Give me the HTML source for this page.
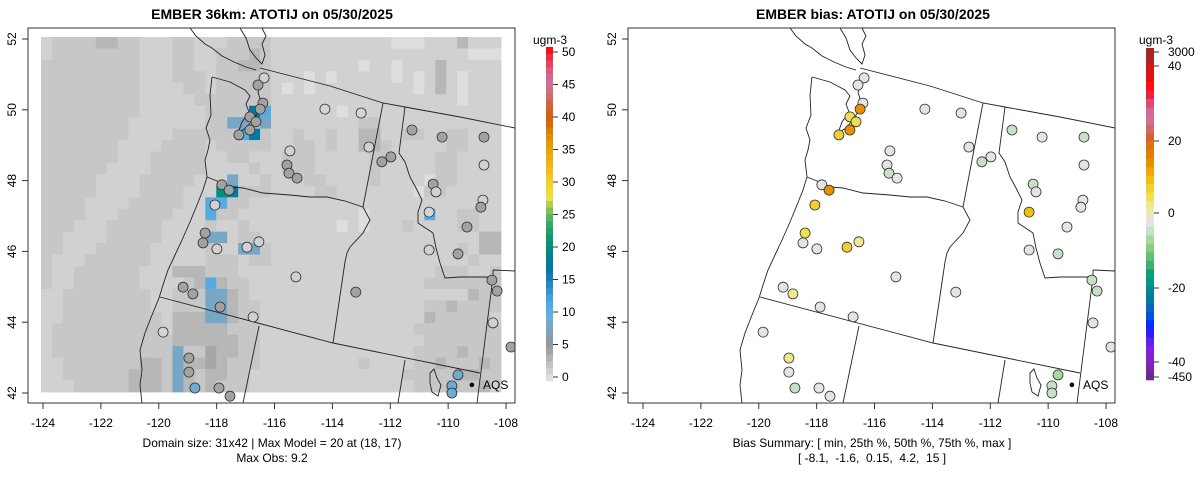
<!DOCTYPE html>
<html><head><meta charset="utf-8">
<style>
html,body{margin:0;padding:0;background:#fff;}
svg{display:block;font-family:"Liberation Sans",Arial,sans-serif;}
</style></head>
<body>
<svg id="chart" width="1200" height="479" viewBox="0 0 1200 479" xmlns="http://www.w3.org/2000/svg">
<rect x="0" y="0" width="1200" height="479" fill="#fff"/>
<text x="272" y="19" text-anchor="middle" font-size="14" font-weight="bold">EMBER 36km: ATOTIJ on 05/30/2025</text>
<text x="873" y="19" text-anchor="middle" font-size="14" font-weight="bold">EMBER bias: ATOTIJ on 05/30/2025</text>
<g id="left"></g>
<g id="right" transform="translate(600,0)"></g>
<text x="272" y="447" text-anchor="middle" font-size="12">Domain size: 31x42 | Max Model = 20 at (18, 17)</text>
<text x="272" y="462" text-anchor="middle" font-size="12">Max Obs: 9.2</text>
<text x="872" y="447" text-anchor="middle" font-size="12">Bias Summary: [ min, 25th %, 50th %, 75th %, max ]</text>
<text x="872" y="462" text-anchor="middle" font-size="12" xml:space="preserve">[ -8.1,  -1.6,  0.15,  4.2,  15 ]</text>
<g id="cbl"></g>
<g id="cbr"></g>
</svg>
<script>
// ---- data ----
const xTicks = [-124,-122,-120,-118,-116,-114,-112,-110,-108];
const yTicks = [42,44,46,48,50,52];
const gridRows = [
"122223322111221"+"112222111111111110001113111",
"122222222111221"+"122232111111111111111111000",
"222222222111221"+"122332111111110110111311111",
"222222222111222"+"122222111010111110101310111",
"222222222111122"+"122222101011111111101310111",
"222222222111112"+"222222111111111111111110111",
"222222222111111"+"2222db111111011111111111111",
"222222221111111"+"22cc2c111111112211111111111",
"222222221111222"+"222bd2112112113311221122111",
"222222211112222"+"122222112212113321111122111",
"222222211122222"+"112211122211111221111221111",
"222222111122222"+"111121122211111211111221111",
"222221111222221"+"11c112111221111211110221111",
"222221111222211"+"1gd222111122111111102211111",
"222211112222211"+"bb2211111111111111111111111",
"222211122222111"+"b2211111111111011111b112211",
"222111222221111"+"211211111111010111211112211",
"221111222221111"+"cc1221111111111111111111133",
"221112222211111"+"211cc2111111111111111112133",
"211122222211111"+"222122111111111111111111211",
"211222222111333"+"222111111111111111111222112",
"211222222111123"+"b32211111111111111112222222",
"112222222211222"+"cc3211111111111111111111322",
"112222222211222"+"cc3221111111111111112232222",
"112222222221333"+"cc3221111111111111113222221",
"122222222221333"+"332221111111111111122222222",
"122222222222333"+"333221111111111111112222222",
"122222222222c22"+"433221111111111111122223222",
"112222222332c33"+"432221111111112111122322232",
"112222223332c32"+"332211111111111111222223322",
"111222223332c32"+"322211111111111111122232231"
];
const levelValue = {"0":0.6,"1":1.5,"2":2.2,"3":3.2,"4":4.2,"c":8,"b":11,"d":17,"g":20};
const siteLon = [-116.36,-116.57,-116.40,-116.50,-116.85,-116.64,-116.85,-117.23,-114.26,-113.01,-111.25,-110.21,-108.76,-115.47,-112.74,-112.29,-111.98,-115.57,-115.50,-115.22,-108.76,-117.82,-117.57,-110.52,-110.42,-108.80,-108.87,-118.06,-110.66,-118.40,-118.47,-117.99,-116.95,-116.54,-109.35,-110.66,-109.66,-115.26,-108.49,-108.31,-119.16,-118.82,-113.19,-117.88,-116.74,-119.85,-108.45,-107.83,-118.96,-118.96,-118.75,-117.92,-117.54,-109.66,-109.87,-109.87];
const siteLat = [50.90,50.70,50.19,50.02,49.80,49.66,49.43,49.29,50.02,49.91,49.43,49.23,49.23,48.84,48.95,48.53,48.67,48.44,48.21,48.07,48.44,47.88,47.73,47.90,47.68,47.45,47.25,47.31,47.11,46.52,46.24,46.07,46.12,46.27,46.69,46.04,45.93,45.28,45.19,44.88,44.99,44.80,44.85,44.43,44.15,43.72,43.98,43.30,42.99,42.59,42.14,42.14,41.91,42.51,42.20,42.00];
const siteObs = [1.5,4.5,4.5,4.5,4.5,4.5,4.5,4.5,1.2,1.2,4.5,4.5,4.5,1.5,1.5,4.5,4.5,4.5,4.5,4.5,1.5,4.5,4.5,4.5,1.5,1.5,4.5,1.5,1.2,4.5,4.5,1.5,1.5,1.5,4.5,1.5,4.5,1.5,4.5,4.5,4.5,4.5,4.5,4.5,1.5,1.2,1.5,4.5,4.5,4.5,9.2,4.5,4.5,9,9,9];
const siteBias = [0,0,0,15,6,5,15,8,0,0,-3,0,-2,0,0,-3,0,0,-2,0,0,0,15,-2,0,0,0,9,10,5,0,0,7,4,0,0,-3,0,-2,-2,0,3,0,0,0,0,0,0,3,0,-4,0,0,-6,-4,-3];
const leftCbTicks = [0,5,10,15,20,25,30,35,40,45,50];
const biasCbLabels = ["3000","40","20","0","-20","-40","-450"];
const biasCbLabelY = [52,66,141,213,288,362,377];
const biasColors = ["#a02828","#b52020","#d01818","#e81010","#ff1010","#f02040","#e04870","#d06890","#d07090","#d06868","#d86030","#e07010","#e08000","#e89000","#f0a800","#f0c010","#f0d030","#f0e050","#f0e890","#e8e8c0","#e4e4e4","#c8e0c8","#a8d8a0","#88cc80","#60c078","#40b070","#10a070","#00988a","#008890","#0078a8","#0068c0","#0050e0","#0030ff","#3020f0","#6020e8","#8020e0","#8820c8","#7828a8","#6a2890"];

// ---- scales ----
const X = lon => 43 + (lon + 124) * 28.94;
const Y = lat => 39 + (52 - lat) * 35.4;
const NS = "http://www.w3.org/2000/svg";
function mk(tag, attrs, parent){const e=document.createElementNS(NS,tag);for(const k in attrs)e.setAttribute(k,attrs[k]);parent.appendChild(e);return e;}
const stops=[[0,"#e6e6e6"],[1,"#d8d8d8"],[2,"#cacaca"],[3,"#bababa"],[4,"#aaaaaa"],[5,"#9a9a9a"],[6,"#8c9aa4"],[8,"#78a6c6"],[10,"#62b0e2"],[12,"#4aa6e0"],[14,"#2a8ccc"],[16,"#0a76b4"],[18,"#007a98"],[20,"#009080"],[22,"#10a070"],[24,"#40b060"],[26,"#90c850"],[27.5,"#f0e040"],[30,"#f0d020"],[33,"#f0b010"],[35,"#e8a000"],[37,"#e08800"],[39,"#d86000"],[41,"#d06030"],[43,"#d07070"],[45,"#d070a0"],[47,"#e05070"],[49,"#f02030"],[50,"#ff0000"]];
function hex2(c){return [parseInt(c.substr(1,2),16),parseInt(c.substr(3,2),16),parseInt(c.substr(5,2),16)];}
function cmap(v){v=Math.max(0,Math.min(50,v));for(let i=1;i<stops.length;i++){if(v<=stops[i][0]){const a=stops[i-1],b=stops[i];const t=(v-a[0])/(b[0]-a[0]);const A=hex2(a[1]),B=hex2(b[1]);return "rgb("+A.map((x,k)=>Math.round(x+(B[k]-x)*t)).join(",")+")";}}return "#ff0000";}
function biasColor(v){
  let idx;
  if(v===0) idx=20;
  else if(v>0) idx=Math.floor(19.9 - v*0.432);
  else idx=20+Math.ceil(-v*0.25);
  idx=Math.max(0,Math.min(biasColors.length-1,idx));
  return biasColors[idx];
}

const mapLines = [
"M260,68 L330,86 L383,103 L405,107 L460,117 L515,128",
"M383,103 L363,207",
"M207,177 L222,183 L230,187 L243,188 L263,193 L290,195 L310,197 L327,197 L345,201 L363,207",
"M363,207 L370,220 L363,233 L350,247 L347,253 L345,262 L333,343",
"M160,297 L333,343 L480,373",
"M259,326 L243,403",
"M405,360 L398,403",
"M493,277 L477,403",
"M493,270 L515,271",
"M405,107 L399,153 L405,162 L410,177 L416,188 L422,200 L418,212 L418,223 L433,233 L436,248 L440,263 L445,278 L460,277 L483,277 L493,277 L493,270",
"M212,77 L210,95 L211,115 L206,128 L210,140 L208,150 L205,160 L207,177 L203,190 L197,205 L190,222 L182,240 L175,255 L168,270 L163,285 L159,298 L152,315 L145,333 L140,350 L142,370 L140,385 L142,403",
"M212,77 L230,82 L245,90 L250,96 L246,104 L249,112 L242,122 L238,133 L246,128 L252,121 L258,112 L261,102 L258,92 L262,84",
"M190,28 L196,36 L205,44 L212,48 L222,56 L234,62 L246,67 L256,70",
"M240,28 L246,38 L250,50 L256,58 L262,64 L265,55 L262,44 L266,36 L262,28",
"M430,373 L434,369 L437,378 L441,385 L438,396 L432,392 L430,383 Z"
];

function drawPanel(g, isBias){
  const clip = mk("clipPath",{id:isBias?"clipR":"clipL"},g);
  mk("rect",{x:28,y:28,width:487,height:375},clip);
  const inner = mk("g",{"clip-path":"url(#"+(isBias?"clipR":"clipL")+")"},g);
  
  
  if(!isBias){
    const cw=460/42, ch=355/31;
    const cells = mk("g",{},inner);
    
    
    gridRows.forEach((row,r)=>{
      for(let c=0;c<42;c++){
        const ch0=row.charAt(c)||"1";
        const v=levelValue[ch0]!==undefined?levelValue[ch0]:1.5;
        const cell=mk("rect",{x:(41+c*cw).toFixed(2),y:(37+r*ch).toFixed(2),width:(cw+0.4).toFixed(2),height:(ch+0.4).toFixed(2),fill:cmap(v)},cells);
        
        
      }
    });
  }
  const lines = mk("g",{fill:"none",stroke:"#222","stroke-width":"0.9"},inner);
  
  
  mapLines.forEach(d=>{const p=mk("path",{d:d},lines);
    
    });
  siteLon.forEach((lon,i)=>{
    const fill = isBias ? biasColor(siteBias[i]) : cmap(siteObs[i]);
    const c=mk("circle",{cx:X(lon).toFixed(1),cy:Y(siteLat[i]).toFixed(1),r:5,fill:fill,stroke:"#333","stroke-width":"0.8"},inner);
    
    
  });
  const d=mk("circle",{cx:X(-109.18),cy:Y(42.23),r:2.3,fill:"#000"},inner);
  
  
  const t=mk("text",{x:483,y:389,"font-size":"12"},inner); t.textContent="AQS";
  
  
  const box=mk("rect",{x:28,y:28,width:487,height:375,fill:"none",stroke:"#333","stroke-width":"1"},g);
  
  
  xTicks.forEach(v=>{
    const x=X(v);
    const l=mk("line",{x1:x,x2:x,y1:403,y2:409,stroke:"#333"},g);
    
    
    const tt=mk("text",{x:x,y:427,"text-anchor":"middle","font-size":"12"},g); tt.textContent=v;
    
    
  });
  yTicks.forEach(v=>{
    const y=Y(v);
    const l=mk("line",{x1:22,x2:28,y1:y,y2:y,stroke:"#333"},g);
    
    
    const tt=mk("text",{x:0,y:0,"text-anchor":"middle","font-size":"12",transform:"translate(16,"+y+") rotate(-90)"},g); tt.textContent=v;
    
    
  });
}
drawPanel(document.getElementById("left"), false);
drawPanel(document.getElementById("right"), true);

// left colorbar
(function(){
  const g=document.getElementById("cbl");
  const bh=(381-47)/50;
  for(let i=0;i<50;i++){
    const r=mk("rect",{x:546,y:(381-(i+1)*bh).toFixed(2),width:7,height:(bh+0.3).toFixed(2),fill:cmap(i+0.5)},g);
    
    
  }
  leftCbTicks.forEach(v=>{
    const y=377-(v/50)*(377-52);
    const l=mk("line",{x1:553,x2:558,y1:y,y2:y,stroke:"#333"},g);
    
    
    const t=mk("text",{x:562,y:y+4,"font-size":"12"},g); t.textContent=v;
    
    
  });
  const u=mk("text",{x:550,y:44,"text-anchor":"middle","font-size":"12"},g); u.textContent="ugm-3";
  
  
})();
// bias colorbar
(function(){
  const g=document.getElementById("cbr");
  const n=biasColors.length, bh=332/n;
  biasColors.forEach((c,i)=>{
    const r=mk("rect",{x:1146,y:(48+i*bh).toFixed(2),width:8,height:(bh+0.3).toFixed(2),fill:c},g);
    
    
  });
  biasCbLabels.forEach((lab,i)=>{
    const y=biasCbLabelY[i];
    const l=mk("line",{x1:1154,x2:1159,y1:y,y2:y,stroke:"#333"},g);
    
    
    const t=mk("text",{x:1168,y:y+4,"font-size":"12"},g); t.textContent=lab;
    
    
  });
  const u=mk("text",{x:1156,y:44,"text-anchor":"middle","font-size":"12"},g); u.textContent="ugm-3";
  
  
})();
</script>
</body></html>
